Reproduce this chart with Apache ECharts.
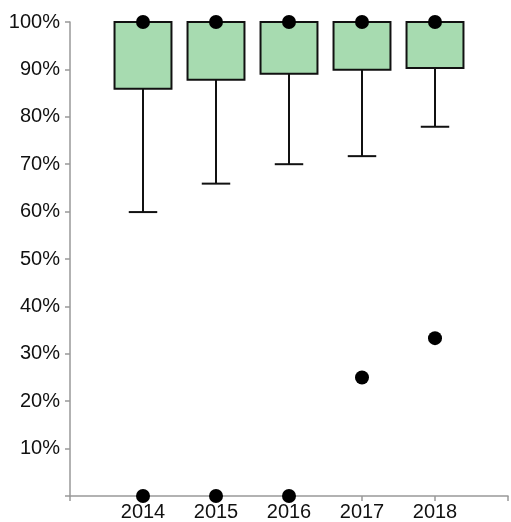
<!DOCTYPE html>
<html>
<head>
<meta charset="utf-8">
<script src="https://cdn.jsdelivr.net/npm/echarts@6/dist/echarts.min.js"></script>
<style>
html,body{margin:0;padding:0;background:#fff;}
#chart{width:511px;height:522px;}
</style>
</head>
<body>
<div id="chart"></div>
<script>
// Data
var categories = ['2014', '2015', '2016', '2017', '2018'];
var lowWhisker = [59.9, 65.9, 70.0, 71.7, 77.9];
var q1 = [85.9, 87.8, 89.1, 89.9, 90.3];
var median = [100, 100, 100, 100, 100];
var q3 = [100, 100, 100, 100, 100];
var highWhisker = [100, 100, 100, 100, 100];
var outlierYear = ['2014', '2014', '2015', '2015', '2016', '2016', '2017', '2017', '2018', '2018'];
var outlierValue = [100, 0, 100, 0, 100, 0, 100, 25, 100, 33.3];
var yTicks = [0, 10, 20, 30, 40, 50, 60, 70, 80, 90, 100];

var axisCats = [''].concat(categories).concat(['']);

var boxData = categories.map(function (c, i) {
  return [c, lowWhisker[i], q1[i], median[i], q3[i], highWhisker[i]];
});
var outlierData = outlierYear.map(function (c, i) { return [c, outlierValue[i]]; });

var chart = echarts.init(document.getElementById('chart'), null, {renderer: 'canvas'});

var lineStyle = {stroke: '#111', lineWidth: 2};

chart.setOption({
  animation: false,
  grid: {left: 70, right: 1, top: 22, bottom: 26},
  xAxis: {
    type: 'category',
    data: axisCats,
    boundaryGap: false,
    axisLine: {lineStyle: {color: '#999', width: 1.5}},
    axisTick: {show: true, length: 5, lineStyle: {color: '#999', width: 1.5}},
    axisLabel: {color: '#111', fontSize: 20, fontFamily: 'Liberation Sans, Arial', margin: 6, interval: 0},
    splitLine: {show: false}
  },
  yAxis: {
    type: 'value',
    min: yTicks[0],
    max: yTicks[yTicks.length - 1],
    interval: 10,
    axisLine: {show: true, lineStyle: {color: '#999', width: 1.5}},
    axisTick: {show: true, length: 5, lineStyle: {color: '#999', width: 1.5}},
    axisLabel: {
      color: '#111', fontSize: 20, fontFamily: 'Liberation Sans, Arial', margin: 10,
      formatter: function (v) { return v === 0 ? '' : v + '%'; }
    },
    splitLine: {show: false}
  },
  series: [
    {
      type: 'custom',
      data: boxData,
      encode: {x: 0, y: [1, 2, 3, 4, 5]},
      z: 3,
      renderItem: function (params, api) {
        var cat = api.value(0);
        var pLow = api.coord([cat, api.value(1)]);
        var pQ1 = api.coord([cat, api.value(2)]);
        var pMed = api.coord([cat, api.value(3)]);
        var pQ3 = api.coord([cat, api.value(4)]);
        var pHigh = api.coord([cat, api.value(5)]);
        var band = api.size([1, 0])[0];
        var bw = band * 0.78;
        var cw = bw * 0.5;
        var x = pQ1[0];
        return {
          type: 'group',
          children: [
            {type: 'line', shape: {x1: x, y1: pLow[1], x2: x, y2: pQ1[1]}, style: lineStyle},
            {type: 'line', shape: {x1: x, y1: pQ3[1], x2: x, y2: pHigh[1]}, style: lineStyle},
            {type: 'rect', shape: {x: x - bw / 2, y: pQ3[1], width: bw, height: pQ1[1] - pQ3[1]},
              style: {fill: '#a7dbb0', stroke: '#111', lineWidth: 2}},
            {type: 'line', shape: {x1: x - bw / 2, y1: pMed[1], x2: x + bw / 2, y2: pMed[1]}, style: lineStyle},
            {type: 'line', shape: {x1: x - cw / 2, y1: pLow[1], x2: x + cw / 2, y2: pLow[1]}, style: lineStyle},
            {type: 'line', shape: {x1: x - cw / 2, y1: pHigh[1], x2: x + cw / 2, y2: pHigh[1]}, style: lineStyle}
          ]
        };
      }
    },
    {
      type: 'scatter',
      data: outlierData,
      symbol: 'circle',
      symbolSize: 14,
      clip: false,
      z: 5,
      itemStyle: {color: '#000', opacity: 1}
    }
  ]
});
</script>
</body>
</html>
